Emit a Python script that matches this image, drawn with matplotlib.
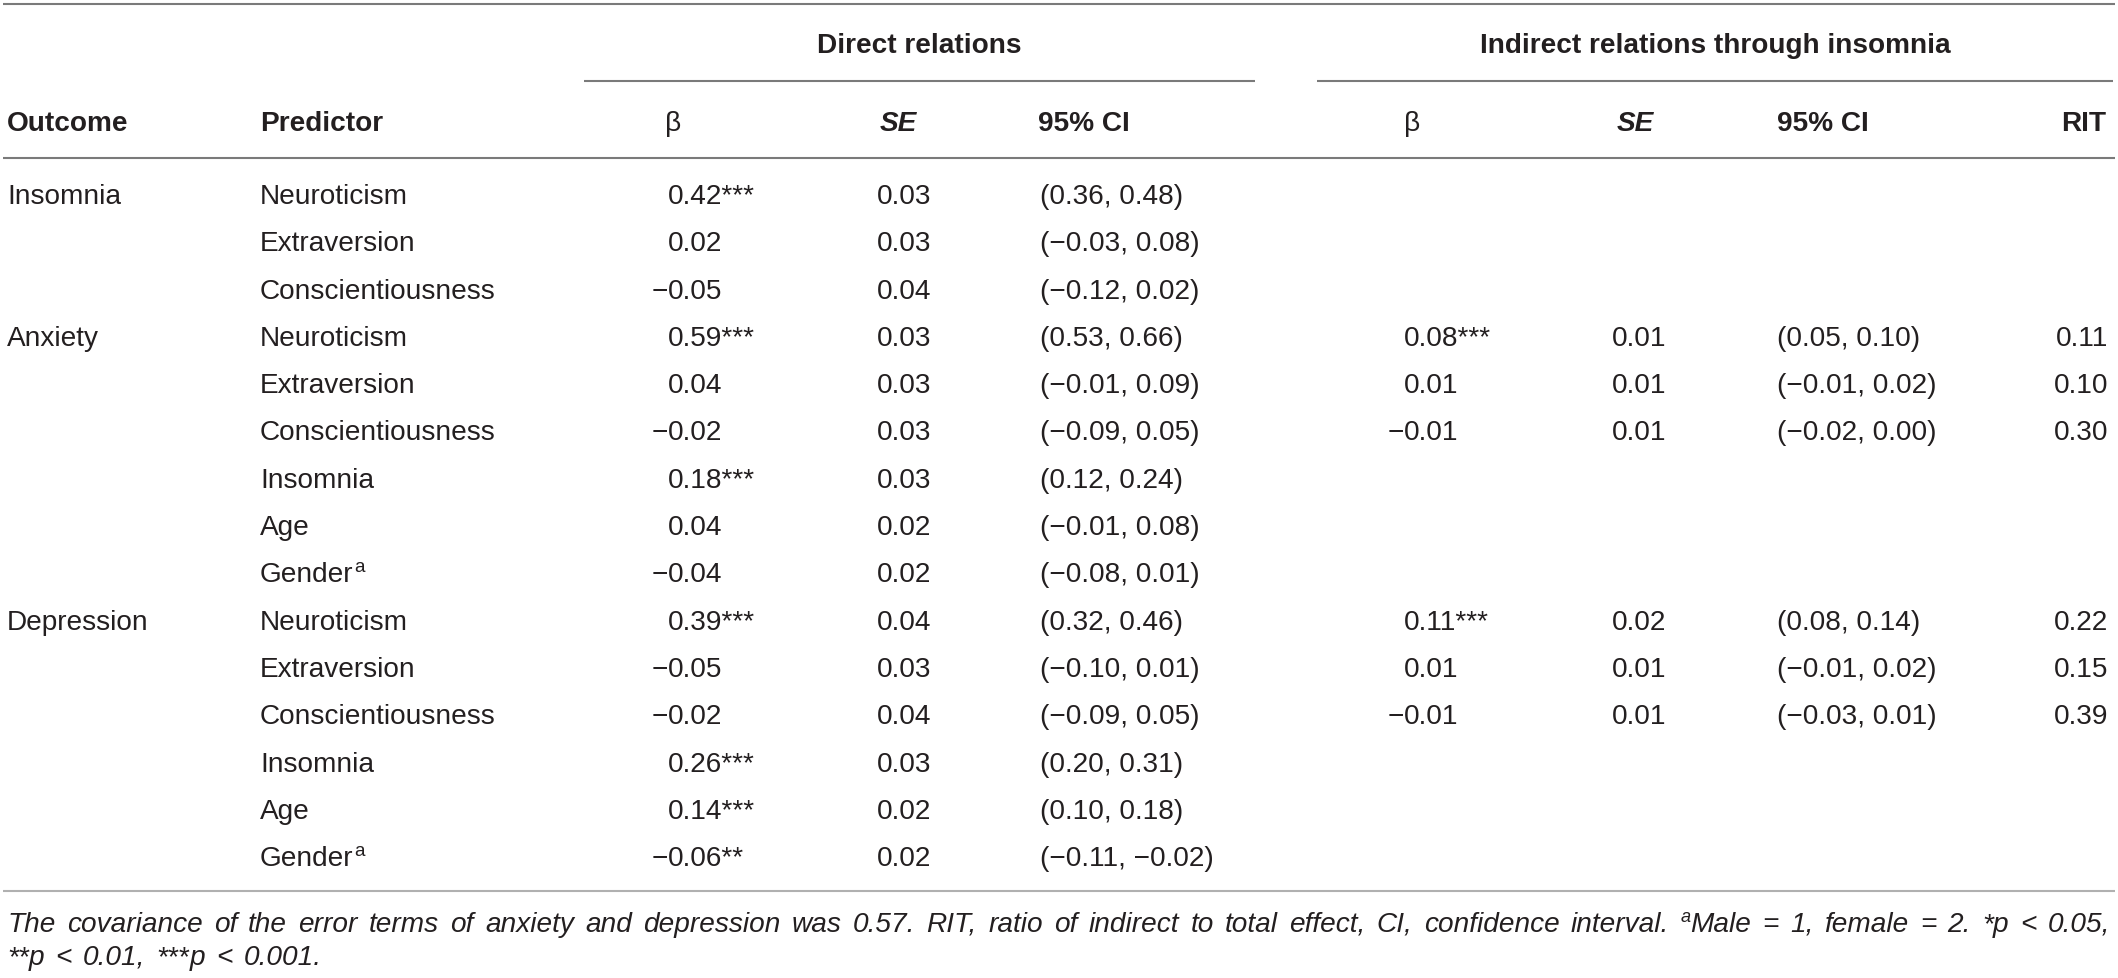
import matplotlib
matplotlib.use("Agg")
import matplotlib.pyplot as plt

# ---------------- data ----------------
row_outcome = ["Insomnia", "", "", "Anxiety", "", "", "", "", "",
               "Depression", "", "", "", "", ""]
row_predictor = ["Neuroticism", "Extraversion", "Conscientiousness",
                 "Neuroticism", "Extraversion", "Conscientiousness", "Insomnia", "Age", "Gender",
                 "Neuroticism", "Extraversion", "Conscientiousness", "Insomnia", "Age", "Gender"]
predictor_note = ["", "", "", "", "", "", "", "", "a", "", "", "", "", "", "a"]

direct_beta = [0.42, 0.02, -0.05, 0.59, 0.04, -0.02, 0.18, 0.04, -0.04,
               0.39, -0.05, -0.02, 0.26, 0.14, -0.06]
direct_sig = ["***", "", "", "***", "", "", "***", "", "",
              "***", "", "", "***", "***", "**"]
direct_se = [0.03, 0.03, 0.04, 0.03, 0.03, 0.03, 0.03, 0.02, 0.02,
             0.04, 0.03, 0.04, 0.03, 0.02, 0.02]
direct_ci_low = [0.36, -0.03, -0.12, 0.53, -0.01, -0.09, 0.12, -0.01, -0.08,
                 0.32, -0.10, -0.09, 0.20, 0.10, -0.11]
direct_ci_high = [0.48, 0.08, 0.02, 0.66, 0.09, 0.05, 0.24, 0.08, 0.01,
                  0.46, 0.01, 0.05, 0.31, 0.18, -0.02]

N = None
indirect_beta = [N, N, N, 0.08, 0.01, -0.01, N, N, N, 0.11, 0.01, -0.01, N, N, N]
indirect_sig = ["", "", "", "***", "", "", "", "", "", "***", "", "", "", "", ""]
indirect_se = [N, N, N, 0.01, 0.01, 0.01, N, N, N, 0.02, 0.01, 0.01, N, N, N]
indirect_ci_low = [N, N, N, 0.05, -0.01, -0.02, N, N, N, 0.08, -0.01, -0.03, N, N, N]
indirect_ci_high = [N, N, N, 0.10, 0.02, 0.00, N, N, N, 0.14, 0.02, 0.01, N, N, N]
rit = [N, N, N, 0.11, 0.10, 0.30, N, N, N, 0.22, 0.15, 0.39, N, N, N]

group_headers = ["Direct relations", "Indirect relations through insomnia"]
col_headers = ["Outcome", "Predictor", "\u03b2", "SE", "95% CI", "\u03b2", "SE", "95% CI", "RIT"]

footnote1 = ("The covariance of the error terms of anxiety and depression was 0.57. "
             "RIT, ratio of indirect to total effect, CI, confidence interval.")

# ---------------- figure ----------------
W, H = 2118, 979
fig = plt.figure(figsize=(W / 100, H / 100), dpi=100)
ax = fig.add_axes([0, 0, 1, 1])
ax.set_xlim(0, W)
ax.set_ylim(H, 0)
ax.axis("off")
renderer = fig.canvas.get_renderer()

FONT = ["Liberation Sans", "DejaVu Sans"]
PX = 72 / 100.0
FS = 28 * PX
TXT = "#231f20"
LINE = "#7a7a7a"


def fmt(v):
    s = f"{abs(v):.2f}"
    return ("\u2212" + s) if v < 0 else s


def put(x, y, s, ha="left", weight="normal", style="normal", size=FS, color=TXT):
    return ax.text(x, y, s, ha=ha, va="baseline", fontsize=size, family=FONT,
                   fontweight=weight, fontstyle=style, color=color)


def width(t):
    return t.get_window_extent(renderer).width


def put_num(x, y, v, suffix=""):
    if v < 0:
        put(x, y, "\u2212", ha="right")
    put(x, y, f"{abs(v):.2f}" + suffix)


# columns (left x positions)
X_OUT, X_PRED = 7, 260
X_DB, X_DSE, X_DCI = 668, 877, 1040
X_IB, X_ISE, X_ICI, X_RIT = 1404, 1612, 1777, 2108

Y_TOP, Y_GROUP, Y_GLINE, Y_COLS, Y_HLINE = 5, 43, 82, 121, 159
Y_ROW0, ROW_STEP = 194, 47.3
Y_BOTTOM = 892
BASE = 10  # half cap-height offset to baseline

# rules
ax.plot([3, 2115], [Y_TOP, Y_TOP], color=LINE, lw=1.5, solid_capstyle="butt")
ax.plot([584, 1255], [Y_GLINE, Y_GLINE], color=LINE, lw=1.5, solid_capstyle="butt")
ax.plot([1317, 2113], [Y_GLINE, Y_GLINE], color=LINE, lw=1.5, solid_capstyle="butt")
ax.plot([3, 2115], [Y_HLINE, Y_HLINE], color=LINE, lw=1.5, solid_capstyle="butt")
ax.plot([3, 2115], [Y_BOTTOM, Y_BOTTOM], color="#b0b0b0", lw=1.5, solid_capstyle="butt")

# group headers
put((584 + 1255) / 2, Y_GROUP + BASE, group_headers[0], ha="center", weight="bold")
put((1317 + 2113) / 2, Y_GROUP + BASE, group_headers[1], ha="center", weight="bold")

# column headers
yb = Y_COLS + BASE
put(X_OUT, yb, col_headers[0], weight="bold")
put(X_PRED, yb, col_headers[1], weight="bold")
put(X_DB - 3, yb, col_headers[2])
put(X_DSE + 3, yb, col_headers[3], weight="bold", style="italic")
put(X_DCI - 2, yb, col_headers[4], weight="bold")
put(X_IB, yb, col_headers[5])
put(X_ISE + 5, yb, col_headers[6], weight="bold", style="italic")
put(X_ICI, yb, col_headers[7], weight="bold")
put(X_RIT - 2, yb, col_headers[8], ha="right", weight="bold")

# body
for i in range(len(row_predictor)):
    y = Y_ROW0 + i * ROW_STEP + BASE
    if row_outcome[i]:
        put(X_OUT, y, row_outcome[i])
    tp = put(X_PRED, y, row_predictor[i])
    if predictor_note[i]:
        put(X_PRED + width(tp) + 1, y - 10, predictor_note[i], size=FS * 0.68)
    put_num(X_DB, y, direct_beta[i], direct_sig[i])
    put(X_DSE, y, f"{direct_se[i]:.2f}")
    put(X_DCI, y, f"({fmt(direct_ci_low[i])}, {fmt(direct_ci_high[i])})")
    if indirect_beta[i] is not None:
        put_num(X_IB, y, indirect_beta[i], indirect_sig[i])
        put(X_ISE, y, f"{indirect_se[i]:.2f}")
        put(X_ICI, y, f"({fmt(indirect_ci_low[i])}, {fmt(indirect_ci_high[i])})")
        put(X_RIT, y, f"{rit[i]:.2f}", ha="right")

# footnote (italic, first line justified)
FFS = 28 * PX

line1_words = [[(w, False)] for w in footnote1.split(" ")]
line1_words += [[("a", True), ("Male", False)], [("=", False)], [("1,", False)],
                [("female", False)], [("=", False)], [("2.", False)],
                [("*", False), ("p", False)], [("<", False)], [("0.05,", False)]]
line2_words = [[("**", False), ("p", False)], [("<", False)], [("0.01,", False)],
               [("***", False), ("p", False)], [("<", False)], [("0.001.", False)]]


def measure(s, sup):
    t = ax.text(0, 0, s, fontsize=FFS * (0.65 if sup else 1), family=FONT, fontstyle="italic")
    w = width(t)
    t.remove()
    return w


def draw_line(words, y, x0, x1=None, gap=None):
    wws = [sum(measure(s, sup) for s, sup in wd) for wd in words]
    if x1 is not None:
        gap = (x1 - x0 - sum(wws)) / (len(words) - 1)
    x = x0
    for wd, ww in zip(words, wws):
        xx = x
        for s, sup in wd:
            ax.text(xx, y - (10 if sup else 0), s, ha="left", va="baseline",
                    fontsize=FFS * (0.65 if sup else 1), family=FONT,
                    fontstyle="italic", color=TXT)
            xx += measure(s, sup)
        x += ww + gap
    return gap


g = draw_line(line1_words, 922 + BASE, 7, 2110)
draw_line(line2_words, 955 + BASE, 7, gap=g)

fig.savefig("out.png", dpi=100)
